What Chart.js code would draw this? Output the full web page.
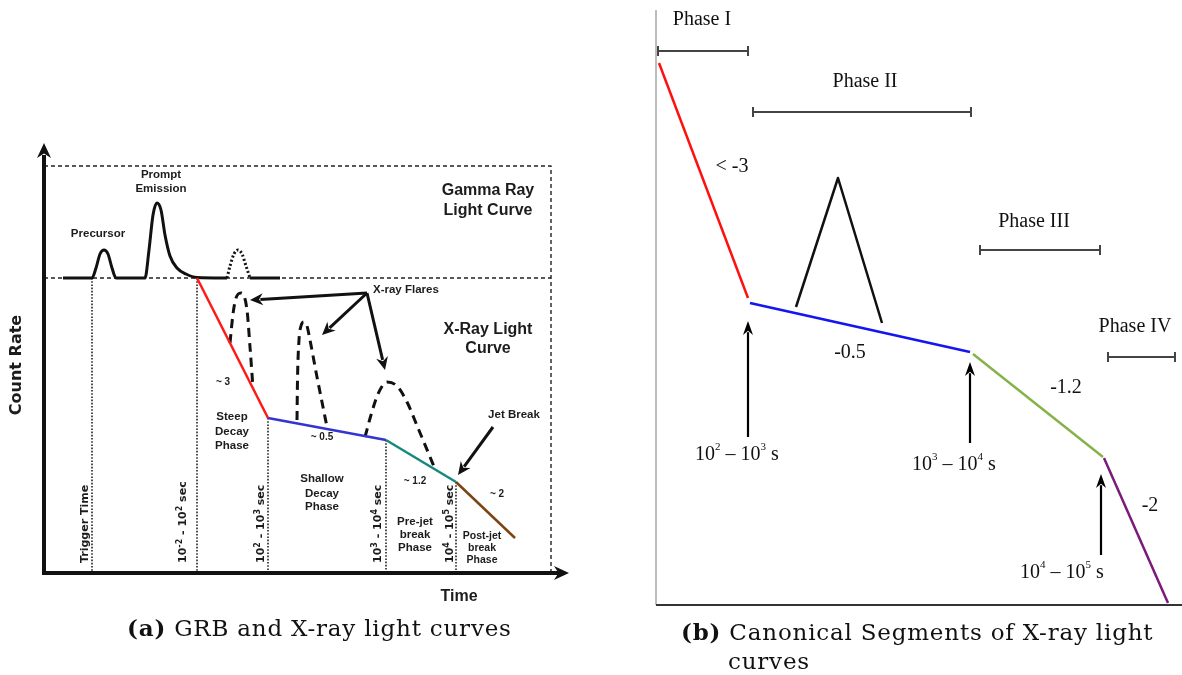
<!DOCTYPE html>
<html>
<head>
<meta charset="utf-8">
<script src="https://cdn.jsdelivr.net/npm/chart.js@4.4.1/dist/chart.umd.min.js"></script>
<style>
  html, body { margin: 0; padding: 0; background: #fff; width: 1182px; height: 675px; overflow: hidden; }
  canvas { position: absolute; top: 0; }
  #chartA { left: 0; }
  #chartB { left: 600px; }
  .cap { position: absolute; font-family: "DejaVu Serif", serif; font-size: 23px; letter-spacing: 0.8px; color: #111; white-space: nowrap; line-height: 26px; }
</style>
</head>
<body>
<canvas id="chartA" width="600" height="675"></canvas>
<canvas id="chartB" width="582" height="675"></canvas>
<div class="cap" style="left:127px;top:615px"><b>(a)</b> GRB and X-ray light curves</div>
<div class="cap" style="left:681px;top:619px"><b>(b)</b> Canonical Segments of X-ray light</div>
<div class="cap" style="left:728px;top:648px">curves</div>

<script>
// ---------- Panel (a): GRB gamma-ray and X-ray light curves (schematic units) ----------
const gammaCurve = [[3.8,59],[9.6,59],[10.4,61],[11.2,63.8],[12,64.6],[12.8,63.8],[13.6,61],[14.4,59],
  [20.2,59],[21,64.6],[21.8,71.6],[22.6,74],[23.4,72.6],[24.2,67.6],[25.2,63.4],[26.6,61],[28.4,59.8],[30.6,59.1],[36.6,59]];
const gammaLateBump = [[36.6,59],[37.2,61.4],[38,63.8],[38.8,64.6],[39.6,63.8],[40.4,61.4],[41.2,59]];
const gammaTail = [[41.2,59],[47.2,59]];

const steepDecay = [[30.6,59],[44.8,31]];
const shallowDecay = [[44.8,31],[68.4,26.6]];
const preJetBreak = [[68.4,26.6],[82.4,18.2]];
const postJetBreak = [[82.4,18.2],[94.2,7]];

const flare1 = [[37.2,46],[37.8,51.8],[38.4,55],[39.4,56],[40.6,52.6],[41.2,45.2],[41.8,37]];
const flare2 = [[50.6,30.6],[50.7,38.6],[51,46.6],[51.4,49.4],[52,50.2],[52.6,49.4],[53.2,46.6],[54.6,39.2],[55.8,33.2],[56.6,29.2]];
const flare3 = [[64.2,27.2],[65.4,31.6],[66.8,35.8],[68.6,38.2],[70.6,37.4],[72.6,34.2],[74.8,29],[76.8,24.2],[78.2,20.8]];

const phaseMarkers = [[9.6,59],[30.6,59],[44.8,31],[68.4,26.6],[82.4,18.2]];
const gammaBoxTop = 81.4, gammaBoxBottom = 59, boxRight = 101.4;

const timeMarkLabels = ['Trigger Time','10^{-2} - 10^{2} sec','10^{2} - 10^{3} sec','10^{3} - 10^{4} sec','10^{4} - 10^{5} sec'];
const timeMarkX = [8.2, 27.8, 43.4, 66.8, 81.2];

// text annotations: [text, x, y, style]
const panelALabels = [
  ['Precursor',10.8,67.8,'s'],
  ['Prompt',23.4,79.6,'s'],['Emission',23.4,76.8,'s'],
  ['Gamma Ray',88.8,76.4,'b'],['Light Curve',88.8,72.4,'b'],
  ['X-Ray Light',88.8,48.6,'b'],['Curve',88.8,44.8,'b'],
  ['~ 3',35.8,38.2,'t'],
  ['Steep',37.6,31.2,'s'],['Decay',37.6,28.2,'s'],['Phase',37.6,25.4,'s'],
  ['~ 0.5',55.6,27.2,'t'],
  ['Shallow',55.6,18.8,'s'],['Decay',55.6,15.8,'s'],['Phase',55.6,13.2,'s'],
  ['~ 1.2',74.2,18.4,'t'],
  ['Pre-jet',74.2,10.2,'s'],['break',74.2,7.6,'s'],['Phase',74.2,5,'s'],
  ['~ 2',90.6,15.8,'t'],
  ['Post-jet',87.6,7.4,'p'],['break',87.6,5,'p'],['Phase',87.6,2.6,'p'],
  ['Jet Break',94,31.6,'s'],
  ['Time',83,-4.8,'b']
];
const flareCallout = { text: 'X-ray Flares', x: 65.8, y: 56.6, from: [64.6,56], tips: [[41.2,54.6],[55.6,47.6],[68.2,40.6]] };
const jetBreakArrow = [[89.8,29.2],[82.8,19.6]];

// ---------- Panel (b): canonical X-ray light-curve segments ----------
const segSteep = [[0.6,108.4],[18.4,61.4]];
const segPlateau = [[18.8,60.4],[62.8,50.6]];
const segNormal = [[63.4,50.2],[89.4,29.6]];
const segPostJet = [[89.6,29.4],[102.4,0.4]];
const segFlare = [[28,59.6],[36.4,85.4],[45.2,56.4]];

const phaseNames = ['Phase I','Phase II','Phase III','Phase IV'];
const phaseSpans = [[0.4,18.4],[19.4,63],[64.8,88.8],[90.4,103.8]];
const phaseBracketY = [110.8, 98.6, 71, 49.6];
const phaseLabelPos = [[9.2,117],[41.8,104.6],[75.6,76.6],[95.8,55.6]];

const slopeLabels = ['< -3','-0.5','-1.2','-2'];
const slopeLabelPos = [[15.2,87.6],[38.8,50.4],[82,43.4],[98.8,19.8]];

const breakLabels = ['10^{2} – 10^{3} s','10^{3} – 10^{4} s','10^{4} – 10^{5} s'];
const breakArrows = [[18.4,33.6,56.8],[62.8,32.4,48.6],[89,10,26.2]];
const breakLabelPos = [[16.2,30],[59.6,28],[81.2,6.4]];

// ---------- helpers ----------
function pts(arr) { return arr.map(([x, y]) => ({ x, y })); }
function line(points, color, width, dash, smooth) {
  return {
    data: pts(points), showLine: true, borderColor: color, borderWidth: width,
    borderDash: dash || [], pointRadius: 0, pointHoverRadius: 0, fill: false, clip: false,
    tension: 0, cubicInterpolationMode: smooth ? 'monotone' : 'default',
    borderCapStyle: 'butt', borderJoinStyle: 'round'
  };
}
function parseRich(str) {
  const out = []; const re = /\^\{([^}]*)\}/g; let last = 0, m;
  while ((m = re.exec(str))) {
    if (m.index > last) out.push({ t: str.slice(last, m.index), sup: false });
    out.push({ t: m[1], sup: true }); last = re.lastIndex;
  }
  if (last < str.length) out.push({ t: str.slice(last), sup: false });
  return out;
}
function drawRich(ctx, str, x, y, size, family, weight, align, supScale, supRise) {
  const segs = parseRich(str);
  const fBase = `${weight} ${size}px ${family}`;
  const fSup = `${weight} ${Math.round(size * supScale)}px ${family}`;
  let w = 0;
  segs.forEach(s => { ctx.font = s.sup ? fSup : fBase; s.w = ctx.measureText(s.t).width; w += s.w; });
  let cx = align === 'center' ? x - w / 2 : (align === 'right' ? x - w : x);
  ctx.textAlign = 'left'; ctx.textBaseline = 'middle';
  segs.forEach(s => { ctx.font = s.sup ? fSup : fBase; ctx.fillText(s.t, cx, s.sup ? y - size * supRise : y); cx += s.w; });
}
function arrow(ctx, x1, y1, x2, y2, lw, headLen, headW, color) {
  const a = Math.atan2(y2 - y1, x2 - x1);
  const bx = x2 - Math.cos(a) * headLen * 0.8, by = y2 - Math.sin(a) * headLen * 0.8;
  ctx.save();
  ctx.strokeStyle = color; ctx.fillStyle = color; ctx.lineWidth = lw; ctx.lineCap = 'butt';
  ctx.beginPath(); ctx.moveTo(x1, y1); ctx.lineTo(bx, by); ctx.stroke();
  const px = -Math.sin(a), py = Math.cos(a);
  const hx = x2 - Math.cos(a) * headLen, hy = y2 - Math.sin(a) * headLen;
  ctx.beginPath();
  ctx.moveTo(x2, y2);
  ctx.lineTo(hx + px * headW, hy + py * headW);
  ctx.lineTo(x2 - Math.cos(a) * headLen * 0.7, y2 - Math.sin(a) * headLen * 0.7);
  ctx.lineTo(hx - px * headW, hy - py * headW);
  ctx.closePath(); ctx.fill();
  ctx.restore();
}

const SANS = '"Liberation Sans", Arial, sans-serif';
const VERD = '"DejaVu Sans", Verdana, sans-serif';
const SERIF = '"Liberation Serif", "Times New Roman", serif';
const labelFonts = { s: 11.5, b: 16, t: 10, p: 10.5 };

// ---------- panel (a) overlay ----------
const panelAOverlay = {
  id: 'panelAOverlay',
  afterDatasetsDraw(chart) {
    const ctx = chart.ctx, sx = chart.scales.x, sy = chart.scales.y;
    const X = v => sx.getPixelForValue(v), Y = v => sy.getPixelForValue(v);
    ctx.save();
    // axes with arrow heads
    ctx.strokeStyle = '#111'; ctx.fillStyle = '#111'; ctx.lineWidth = 4;
    ctx.beginPath(); ctx.moveTo(X(0), Y(0) + 2); ctx.lineTo(X(0), Y(83)); ctx.stroke();
    ctx.beginPath(); ctx.moveTo(X(0) - 2, Y(0)); ctx.lineTo(X(103), Y(0)); ctx.stroke();
    arrow(ctx, X(0), Y(80), X(0), Y(86), 4, 15, 7, '#111');
    arrow(ctx, X(100), Y(0), X(105), Y(0), 4, 15, 7, '#111');

    ctx.fillStyle = '#1c1c1c';
    // axis titles
    ctx.save();
    ctx.translate(X(-5.4), Y(41.6)); ctx.rotate(-Math.PI / 2);
    ctx.font = `bold 16px ${VERD}`; ctx.textAlign = 'center'; ctx.textBaseline = 'middle';
    ctx.fillText('Count Rate', 0, 0);
    ctx.restore();

    // annotations
    panelALabels.forEach(([t, x, y, k]) => {
      ctx.font = `bold ${labelFonts[k]}px ${SANS}`; ctx.textAlign = 'center'; ctx.textBaseline = 'middle';
      ctx.fillText(t, X(x), Y(y));
    });
    ctx.font = `bold 11.5px ${SANS}`; ctx.textAlign = 'left';
    ctx.fillText(flareCallout.text, X(flareCallout.x), Y(flareCallout.y));

    // time markers, rotated
    timeMarkLabels.forEach((t, i) => {
      ctx.save();
      ctx.translate(X(timeMarkX[i]), Y(2)); ctx.rotate(-Math.PI / 2);
      drawRich(ctx, t, 0, 0, 11, VERD, 'bold', 'left', 0.72, 0.3);
      ctx.restore();
    });

    // callout arrows
    flareCallout.tips.forEach(([tx, ty]) => {
      arrow(ctx, X(flareCallout.from[0]), Y(flareCallout.from[1]), X(tx), Y(ty), 3, 13, 6, '#111');
    });
    arrow(ctx, X(jetBreakArrow[0][0]), Y(jetBreakArrow[0][1]), X(jetBreakArrow[1][0]), Y(jetBreakArrow[1][1]), 3, 13, 6, '#111');
    ctx.restore();
  }
};

// ---------- panel (b) overlay ----------
const panelBOverlay = {
  id: 'panelBOverlay',
  beforeDatasetsDraw(chart) {
    const ctx = chart.ctx, sx = chart.scales.x, sy = chart.scales.y;
    const X = v => sx.getPixelForValue(v), Y = v => sy.getPixelForValue(v);
    ctx.save();
    ctx.strokeStyle = '#9a9a9a'; ctx.lineWidth = 1.3;
    ctx.beginPath(); ctx.moveTo(X(0), Y(119)); ctx.lineTo(X(0), Y(0)); ctx.stroke();
    ctx.strokeStyle = '#333'; ctx.lineWidth = 2;
    ctx.beginPath(); ctx.moveTo(X(0), Y(0)); ctx.lineTo(X(105.2), Y(0)); ctx.stroke();
    ctx.restore();
  },
  afterDatasetsDraw(chart) {
    const ctx = chart.ctx, sx = chart.scales.x, sy = chart.scales.y;
    const X = v => sx.getPixelForValue(v), Y = v => sy.getPixelForValue(v);
    ctx.save();
    // phase brackets
    ctx.strokeStyle = '#444'; ctx.lineWidth = 2;
    phaseSpans.forEach(([a, b], i) => {
      const y = Y(phaseBracketY[i]);
      ctx.beginPath();
      ctx.moveTo(X(a), y); ctx.lineTo(X(b), y);
      ctx.moveTo(X(a), y - 5); ctx.lineTo(X(a), y + 5);
      ctx.moveTo(X(b), y - 5); ctx.lineTo(X(b), y + 5);
      ctx.stroke();
    });
    ctx.fillStyle = '#111'; ctx.textAlign = 'center'; ctx.textBaseline = 'middle';
    ctx.font = `20px ${SERIF}`;
    phaseNames.forEach((t, i) => ctx.fillText(t, X(phaseLabelPos[i][0]), Y(phaseLabelPos[i][1])));
    slopeLabels.forEach((t, i) => ctx.fillText(t, X(slopeLabelPos[i][0]), Y(slopeLabelPos[i][1])));
    // break-time arrows
    breakArrows.forEach(([x, y0, y1], i) => {
      arrow(ctx, X(x), Y(y0), X(x), Y(y1), 2.2, 14, 5, '#000');
      drawRich(ctx, breakLabels[i], X(breakLabelPos[i][0]), Y(breakLabelPos[i][1]), 20, SERIF, 'normal', 'center', 0.55, 0.4);
    });
    ctx.restore();
  }
};

function hiddenScales(xmax, ymin, ymax) {
  return {
    x: { type: 'linear', display: false, min: 0, max: xmax },
    y: { type: 'linear', display: false, min: ymin, max: ymax }
  };
}
const commonOpts = {
  responsive: false, animation: false, devicePixelRatio: 1,
  plugins: { legend: { display: false }, tooltip: { enabled: false } },
  events: []
};

// datasets listed top-most first
const dashBox = [4, 3];
const datasetsA = [
  line(steepDecay, '#ff1a1a', 2.5),
  line(shallowDecay, '#3434d0', 2.5),
  line(preJetBreak, '#16897c', 2.5),
  line(postJetBreak, '#7b4513', 2.5),
  line(flare1, '#111', 3, [9, 6], true),
  line(flare2, '#111', 3, [9, 6], true),
  line(flare3, '#111', 3, [9, 6], true),
  line(gammaCurve, '#111', 3, [], true),
  line(gammaLateBump, '#111', 3, [2, 2.2], true),
  line(gammaTail, '#111', 3),
  ...phaseMarkers.map(([x, top]) => line([[x, top], [x, 0]], '#222', 1.6, [1.6, 1.6])),
  line([[0, gammaBoxTop], [boxRight, gammaBoxTop], [boxRight, 0]], '#222', 1.4, dashBox),
  line([[0, gammaBoxBottom], [boxRight, gammaBoxBottom]], '#222', 1.4, dashBox)
];

new Chart(document.getElementById('chartA'), {
  type: 'scatter',
  data: { datasets: datasetsA },
  options: Object.assign({}, commonOpts, {
    layout: { padding: { left: 44, top: 148, right: 31, bottom: 102 } },
    scales: hiddenScales(105, 0, 85)
  }),
  plugins: [panelAOverlay]
});

const datasetsB = [
  line(segSteep, '#ff1010', 2.5),
  line(segPlateau, '#1515f0', 2.8),
  line(segNormal, '#86b24a', 2.5),
  line(segPostJet, '#7a1a7a', 2.5),
  line(segFlare, '#111', 2.5)
];

new Chart(document.getElementById('chartB'), {
  type: 'scatter',
  data: { datasets: datasetsB },
  options: Object.assign({}, commonOpts, {
    layout: { padding: { left: 56, top: 10, right: 0, bottom: 70 } },
    scales: hiddenScales(105.2, 0, 119)
  }),
  plugins: [panelBOverlay]
});
</script>
</body>
</html>
